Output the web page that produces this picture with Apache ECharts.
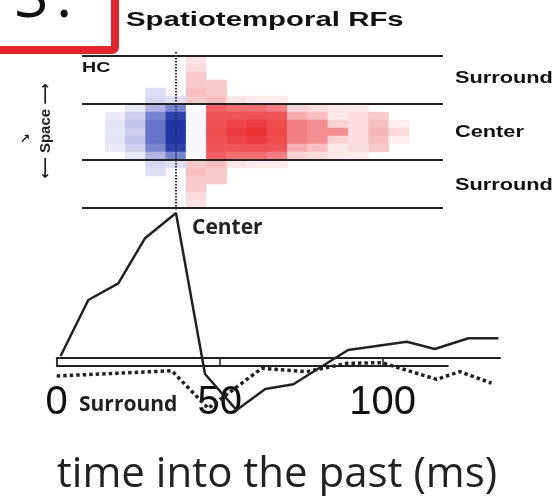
<!DOCTYPE html>
<html><head><meta charset="utf-8">
<script src="https://cdn.jsdelivr.net/npm/echarts@6/dist/echarts.min.js"></script>
<style>html,body{margin:0;padding:0;background:#fff}#c{width:553px;height:496px}</style>
</head><body><div id="c"></div>
<script>
// ---------- Spatiotemporal RF heatmap (negative = blue, positive = red) ----------
const timeBins = ['b1','b2','b3','b4','b5','b6','b7','b8','b9','b10','b11','b12','b13','b14','b15'];
const spaceRows = ['r0','r1','r2','r3','r4','r5','r6','r7','r8','r9','r10','r11','r12','r13','r14','r15','r16','r17','r18'];
const rfValues = [
  [0,0,0,0,0.15,0,0,0,0,0,0,0,0,0,0],
  [0,0,0,0,0.2,0,0,0,0,0,0,0,0,0,0],
  [0,0,0,0,0.3,0,0,0,0,0,0,0,0,0,0],
  [0,0,0,0,0.3,0.3,0,0,0,0,0,0,0,0,0],
  [0,0,-0.2,0,0.35,0.3,0,0,0,0,0,0,0,0,0],
  [0,0,-0.25,-0.2,0.3,0.35,0.15,0.1,0.1,0,0,0,0,0,0],
  [0,-0.15,-0.4,-0.55,0.02,0.65,0.6,0.6,0.55,0.25,0.2,0.12,0.1,0,0],
  [-0.12,-0.3,-0.55,-0.9,-0.05,0.7,0.7,0.72,0.7,0.4,0.35,0.12,0.18,0.3,0],
  [-0.18,-0.35,-0.6,-1,-0.05,0.72,0.8,0.85,0.75,0.55,0.5,0.25,0.18,0.35,0.1],
  [-0.15,-0.3,-0.6,-1,-0.05,0.75,0.85,0.92,0.78,0.55,0.5,0.5,0.18,0.38,0.22],
  [-0.18,-0.35,-0.6,-1,-0.05,0.72,0.8,0.85,0.75,0.55,0.5,0.25,0.18,0.35,0.1],
  [-0.12,-0.3,-0.55,-0.9,-0.05,0.7,0.7,0.72,0.7,0.4,0.35,0.12,0.18,0.3,0],
  [0,-0.15,-0.4,-0.55,0.02,0.65,0.6,0.6,0.55,0.25,0.2,0.12,0.1,0,0],
  [0,0,-0.25,-0.2,0.3,0.35,0.15,0.1,0.1,0,0,0,0,0,0],
  [0,0,-0.2,0,0.35,0.3,0,0,0,0,0,0,0,0,0],
  [0,0,0,0,0.3,0.3,0,0,0,0,0,0,0,0,0],
  [0,0,0,0,0.3,0,0,0,0,0,0,0,0,0,0],
  [0,0,0,0,0.2,0,0,0,0,0,0,0,0,0,0],
  [0,0,0,0,0.15,0,0,0,0,0,0,0,0,0,0]
];
// frame lines of the RF panel, in row units (boundaries: surround / center / surround)
const frameRows = [0, 6, 13, 19];

// ---------- Temporal profiles ----------
const centerTimes  = [1.2, 9.7, 18.9, 27.1, 36.6, 45.5, 55.2, 64.0, 72.6, 89.4, 107.4, 116.0, 126.3, 135.5];
const centerValues = [0.014, 0.40, 0.515, 0.826, 1.0, -0.11, -0.359, -0.214, -0.181, 0.055, 0.112, 0.062, 0.136, 0.136];
const surroundTimes  = [0, 35.3, 46.5, 62.9, 76.7, 89.0, 99.7, 116.6, 123.7, 133.4];
const surroundValues = [-0.124, -0.088, -0.347, -0.071, -0.094, -0.037, -0.032, -0.147, -0.094, -0.174];
const tickLabels = [0, 50, 100];
const tickMarks = [50, 100];

const heatData = [];
rfValues.forEach((row, r) => row.forEach((v, c) => { if (v !== 0) heatData.push([c, r, v]); }));
const centerData = centerTimes.map((t, i) => [t, centerValues[i]]);
const surroundData = surroundTimes.map((t, i) => [t, surroundValues[i]]);
const peakTime = centerTimes[centerValues.indexOf(Math.max(...centerValues))];

const frameStart = 7.8, frameEnd = 118.5;
const frameLines = frameRows.map(r => [{coord: [frameStart, r]}, {coord: [frameEnd, r]}]);
frameLines.push([{coord: [peakTime, -0.5], lineStyle: {type: [1.5, 1.5], width: 2, color: '#2a2f55'}},
                 {coord: [peakTime, 19.25]}]);

const chart = echarts.init(document.getElementById('c'), null, {renderer: 'canvas'});
const hiddenCat = (data) => ({type: 'category', data: data, show: false});
const lbl = 'bold 16px "Liberation Sans", Arial, sans-serif';

chart.setOption({
  animation: false,
  backgroundColor: '#ffffff',
  grid: [
    {left: 105, top: 56, width: 304, height: 152},
    {left: 56.7, top: 52, width: 443.3, height: 160},
    {left: 56.7, top: 213, width: 443.3, height: 217.5},
    {left: 56.7, top: 358, width: 391.2, height: 8}
  ],
  xAxis: [
    Object.assign(hiddenCat(timeBins), {gridIndex: 0}),
    {type: 'value', gridIndex: 1, min: 0, max: 136, show: false},
    {type: 'value', gridIndex: 2, min: 0, max: 136,
     axisLine: {show: true, onZero: true, lineStyle: {color: '#222', width: 2}},
     axisTick: {show: false}, axisLabel: {show: false}, splitLine: {show: false}},
    {type: 'value', gridIndex: 3, min: 0, max: 120,
     axisLine: {show: true, lineStyle: {color: '#222', width: 1.8}},
     axisTick: {show: true, inside: true, length: 7, customValues: tickMarks, lineStyle: {color: '#222', width: 1.5}},
     axisLabel: {show: true, customValues: tickLabels, fontSize: 40, fontFamily: '"Liberation Sans", Arial, sans-serif', color: '#111', margin: 17},
     splitLine: {show: false}}
  ],
  yAxis: [
    Object.assign(hiddenCat(spaceRows), {gridIndex: 0, inverse: true}),
    {type: 'value', gridIndex: 1, min: -0.5, max: 19.5, inverse: true, show: false},
    {type: 'value', gridIndex: 2, min: -0.5, max: 1, show: false},
    {type: 'value', gridIndex: 3, min: 0, max: 1,
     axisLine: {show: true, lineStyle: {color: '#222', width: 1.8}},
     axisTick: {show: false}, axisLabel: {show: false}, splitLine: {show: false}}
  ],
  visualMap: {type: 'continuous', min: -1, max: 1, show: false, seriesIndex: 0,
    inRange: {color: ['#1d35a5', '#4f5fbf', '#c9cbec', '#ffffff', '#f7c4c6', '#f05a5c', '#e8262a']}},
  series: [
    {type: 'heatmap', xAxisIndex: 0, yAxisIndex: 0, data: heatData, itemStyle: {borderWidth: 0}},
    {type: 'line', xAxisIndex: 1, yAxisIndex: 1, data: [], silent: true,
     markLine: {symbol: 'none', silent: true, label: {show: false},
       lineStyle: {type: 'solid', color: '#222', width: 2}, data: frameLines}},
    {type: 'line', xAxisIndex: 2, yAxisIndex: 2, data: centerData, showSymbol: false, symbol: 'none',
     lineStyle: {color: '#222', width: 2.5}, z: 5},
    {type: 'line', xAxisIndex: 2, yAxisIndex: 2, data: surroundData, showSymbol: false, symbol: 'none',
     lineStyle: {color: '#222', width: 3.5, type: [3.5, 3], cap: 'butt'}, z: 5}
  ],
  graphic: [
    {type: 'rect', shape: {x: -20, y: -20, width: 135, height: 70, r: 3}, style: {fill: 'none', stroke: '#e3232b', lineWidth: 8}},
    {type: 'text', x: 14, y: 30, style: {text: 'S', font: '62px "Open Sans", sans-serif', fill: '#111', verticalAlign: 'bottom'}},
    {type: 'text', x: 56, y: 30, style: {text: ':', font: '62px "Open Sans", sans-serif', fill: '#111', verticalAlign: 'bottom'}},
    {type: 'text', x: 126, y: 20, scaleX: 1.40, style: {text: 'Spatiotemporal RFs', font: 'bold 21px "Liberation Sans", Arial, sans-serif', fill: '#111', verticalAlign: 'middle'}},
    {type: 'text', x: 82, y: 68, scaleX: 1.4, z: 10, style: {text: 'HC', font: 'bold 14px "Liberation Sans", Arial, sans-serif', fill: '#111', verticalAlign: 'middle'}},
    {type: 'text', x: 455, y: 79, scaleX: 1.36, style: {text: 'Surround', font: lbl, fill: '#111', verticalAlign: 'middle'}},
    {type: 'text', x: 455, y: 133, scaleX: 1.36, style: {text: 'Center', font: lbl, fill: '#111', verticalAlign: 'middle'}},
    {type: 'text', x: 455, y: 186, scaleX: 1.36, style: {text: 'Surround', font: lbl, fill: '#111', verticalAlign: 'middle'}},
    {type: 'text', x: 46, y: 131, rotation: Math.PI / 2, style: {text: '⟵ Space ⟶', font: 'bold 15px "Liberation Sans", "DejaVu Sans", sans-serif', fill: '#222', align: 'center', verticalAlign: 'middle'}},
    {type: 'text', x: 25, y: 140, style: {text: '↗', font: 'bold 13px "DejaVu Sans", sans-serif', fill: '#222', align: 'center', verticalAlign: 'middle'}},
    {type: 'text', x: 192, y: 228, style: {text: 'Center', font: 'bold 21px "Open Sans", sans-serif', fill: '#222', verticalAlign: 'middle'}},
    {type: 'text', x: 79, y: 405, style: {text: 'Surround', font: 'bold 21px "Open Sans", sans-serif', fill: '#222', verticalAlign: 'middle'}},
    {type: 'text', x: 277, y: 475, style: {text: 'time into the past (ms)', font: '42px "Open Sans", sans-serif', fill: '#222', align: 'center', verticalAlign: 'middle'}}
  ]
});
</script>
</body></html>
